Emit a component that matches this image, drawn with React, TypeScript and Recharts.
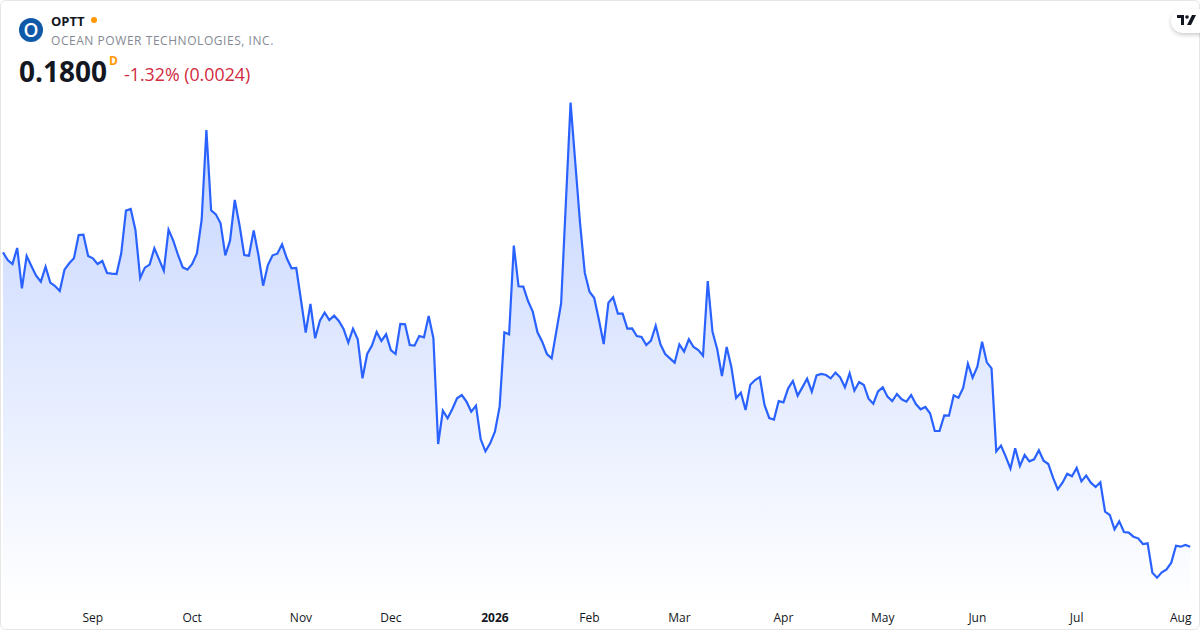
import { AreaChart, Area, XAxis, YAxis } from 'recharts';

const closes = [
  0.3566, 0.3520, 0.3496, 0.3592, 0.3350, 0.3544, 0.3484, 0.3426, 0.3390, 0.3480, 0.3384, 0.3364,
  0.3334, 0.3462, 0.3500, 0.3530, 0.3670, 0.3672, 0.3544, 0.3530, 0.3496, 0.3514, 0.3442, 0.3438,
  0.3436, 0.3560, 0.3816, 0.3826, 0.3700, 0.3412, 0.3474, 0.3492, 0.3590, 0.3524, 0.3456, 0.3702,
  0.3636, 0.3550, 0.3476, 0.3462, 0.3496, 0.3560, 0.3760, 0.4300, 0.3818, 0.3794, 0.3740, 0.3548,
  0.3636, 0.3880, 0.3730, 0.3550, 0.3546, 0.3698, 0.3550, 0.3366, 0.3490, 0.3548, 0.3558, 0.3614,
  0.3530, 0.3470, 0.3472, 0.3280, 0.3084, 0.3256, 0.3050, 0.3156, 0.3204, 0.3160, 0.3186, 0.3154,
  0.3106, 0.3024, 0.3108, 0.3044, 0.2810, 0.2956, 0.3006, 0.3088, 0.3034, 0.3074, 0.2980, 0.2956,
  0.3136, 0.3134, 0.3010, 0.3006, 0.3064, 0.3056, 0.3184, 0.3050, 0.2416, 0.2616, 0.2570, 0.2626,
  0.2690, 0.2710, 0.2670, 0.2610, 0.2646, 0.2444, 0.2372, 0.2420, 0.2490, 0.2640, 0.3086, 0.3074,
  0.3606, 0.3362, 0.3360, 0.3274, 0.3210, 0.3086, 0.3030, 0.2956, 0.2930, 0.3094, 0.3259, 0.3862,
  0.4464, 0.4102, 0.3742, 0.3444, 0.3330, 0.3292, 0.3160, 0.3016, 0.3264, 0.3296, 0.3198, 0.3198,
  0.3108, 0.3110, 0.3064, 0.3058, 0.3010, 0.3036, 0.3126, 0.3014, 0.2956, 0.2930, 0.2904, 0.3014,
  0.2970, 0.3044, 0.2998, 0.2980, 0.2946, 0.3394, 0.3090, 0.2984, 0.2824, 0.2998, 0.2876, 0.2692,
  0.2724, 0.2620, 0.2772, 0.2800, 0.2818, 0.2650, 0.2572, 0.2563, 0.2674, 0.2666, 0.2750, 0.2794,
  0.2706, 0.2756, 0.2808, 0.2730, 0.2828, 0.2836, 0.2830, 0.2810, 0.2844, 0.2816, 0.2756, 0.2840,
  0.2736, 0.2788, 0.2770, 0.2688, 0.2658, 0.2732, 0.2756, 0.2700, 0.2674, 0.2716, 0.2684, 0.2670,
  0.2710, 0.2656, 0.2624, 0.2638, 0.2600, 0.2494, 0.2494, 0.2588, 0.2586, 0.2708, 0.2694, 0.2752,
  0.2898, 0.2814, 0.2880, 0.3030, 0.2906, 0.2870, 0.2372, 0.2406, 0.2340, 0.2268, 0.2390, 0.2284,
  0.2350, 0.2312, 0.2324, 0.2378, 0.2316, 0.2296, 0.2214, 0.2144, 0.2184, 0.2238, 0.2222, 0.2272,
  0.2192, 0.2226, 0.2184, 0.2158, 0.2186, 0.2010, 0.1990, 0.1904, 0.1952, 0.1888, 0.1884, 0.1860,
  0.1850, 0.1816, 0.1820, 0.1644, 0.1614, 0.1646, 0.1664, 0.1704, 0.1806, 0.1800, 0.1810, 0.1800,
];

// session index where each month label sits
const monthTicks = [19, 40, 63, 82, 104, 124, 143, 165, 186, 206, 227, 249];
const monthLabels = ['Sep', 'Oct', 'Nov', 'Dec', '2026', 'Feb', 'Mar', 'Apr', 'May', 'Jun', 'Jul', 'Aug'];

const data = closes.map((close, i) => ({ i, close }));
const FONT = '"Open Sans", sans-serif';

const MonthTick = ({ x, y, payload }: any) => {
  const label = monthLabels[monthTicks.indexOf(payload.value)];
  return (
    <text
      x={x}
      y={y}
      dy={11}
      textAnchor="middle"
      fontFamily={FONT}
      fontSize={12}
      fontWeight={label === '2026' ? 700 : 400}
      fill="#131722"
    >
      {label}
    </text>
  );
};

export default function App() {
  return (
    <div style={{ position: 'absolute', left: 0, top: 0, width: 1200, height: 630, background: '#fff', overflow: 'hidden', fontFamily: FONT }}>
      <AreaChart width={1200} height={630} data={data} margin={{ top: 0, right: 9.8, bottom: 0, left: 3 }}>
        <defs>
          <linearGradient id="areaFill" x1="0" y1="0" x2="0" y2="1">
            <stop offset="0%" stopColor="#2962ff" stopOpacity={0.28} />
            <stop offset="100%" stopColor="#2962ff" stopOpacity={0} />
          </linearGradient>
        </defs>
        <XAxis
          dataKey="i"
          type="number"
          domain={[0, 251]}
          ticks={monthTicks}
          interval={0}
          height={25}
          tickLine={false}
          axisLine={false}
          tickMargin={0}
          tick={<MonthTick />}
        />
        <YAxis hide domain={[0.145, 0.508]} />
        <Area
          dataKey="close"
          type="linear"
          stroke="#2962ff"
          strokeWidth={2.2}
          fill="url(#areaFill)"
          fillOpacity={1}
          isAnimationActive={false}
          dot={false}
          activeDot={false}
        />
      </AreaChart>

      <div style={{ position: 'absolute', inset: 0, border: '1px solid #e6e6e6', borderRadius: 6, boxSizing: 'border-box', pointerEvents: 'none' }} />

      <div style={{ position: 'absolute', left: 19, top: 18, width: 24, height: 24, borderRadius: 12, background: '#1059a8', color: '#fff', fontSize: 19, fontWeight: 600, lineHeight: '24px', textAlign: 'center' }}>O</div>
      <div style={{ position: 'absolute', left: 51, top: 12, fontSize: 13, fontWeight: 700, lineHeight: '18px', color: '#131722' }}>OPTT</div>
      <div style={{ position: 'absolute', left: 91, top: 17, width: 6, height: 6, borderRadius: 3, background: '#ff9800' }} />
      <div style={{ position: 'absolute', left: 51, top: 32, fontSize: 12, lineHeight: '18px', letterSpacing: 0.55, color: '#868993', whiteSpace: 'nowrap' }}>OCEAN POWER TECHNOLOGIES, INC.</div>
      <div style={{ position: 'absolute', left: 19, top: 52, fontSize: 28, fontWeight: 700, lineHeight: '38px', color: '#131722' }}>0.1800</div>
      <div style={{ position: 'absolute', left: 109, top: 54, fontSize: 12, fontWeight: 700, lineHeight: '14px', color: '#ff9800' }}>D</div>
      <div style={{ position: 'absolute', left: 124, top: 62, fontSize: 17.8, lineHeight: '24px', color: '#d12b3f', whiteSpace: 'nowrap' }}>-1.32% (0.0024)</div>

      <div style={{ position: 'absolute', left: 1171, top: 9, width: 40, height: 24, borderRadius: 12, background: '#fff', boxShadow: '0 2px 4px rgba(0,0,0,0.2)' }} />
      <svg style={{ position: 'absolute', left: 1177, top: 15 }} width={19} height={11} viewBox="0 0 19 11">
        <path d="M0 0H7V10H4V3H0Z M15 0H19L14 10H10Z" fill="#131722" />
        <circle cx="10" cy="2" r="1.8" fill="#131722" />
      </svg>
    </div>
  );
}
